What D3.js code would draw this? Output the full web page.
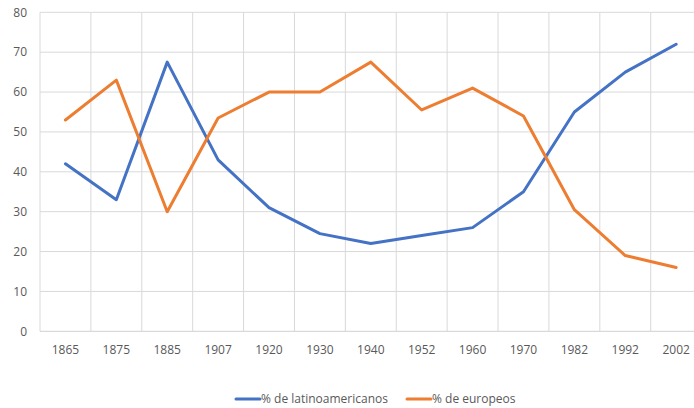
<!DOCTYPE html>
<html><head><meta charset="utf-8">
<script src="https://cdn.jsdelivr.net/npm/d3@7"></script>
<style>body{margin:0;background:#fff;}svg{display:block;font-family:"Open Sans","Noto Sans",sans-serif;}</style>
</head><body>
<svg id="c" width="694" height="408"></svg>
<script>
const categories = ["1865","1875","1885","1907","1920","1930","1940","1952","1960","1970","1982","1992","2002"];
const latinoamericanos = [42,33,67.5,43,31,24.5,22,24,26,35,55,65,72];
const europeos = [53,63,30,53.5,60,60,67.5,55.5,61,54,30.5,19,16];
const yTicks = [0,10,20,30,40,50,60,70,80];
const seriesNames = ["% de latinoamericanos","% de europeos"];
const colors = ["#4472C4","#ED7D31"];

(function(){
const svg = d3.select("#c");
const pL = 40, pR = 701.6, pT = 12.3, pB = 331.3;
const x = d3.scaleBand().domain(categories).range([pL, pR]).padding(0);
const y = d3.scaleLinear().domain([0,80]).range([pB, pT]);

svg.append("g").selectAll("line").data(yTicks.filter(d=>d>0)).join("line")
  .attr("x1", pL).attr("x2", pR)
  .attr("y1", d=>y(d)).attr("y2", d=>y(d))
  .attr("stroke","#d9d9d9").attr("stroke-width",1);
svg.append("g").selectAll("line").data(categories).join("line")
  .attr("x1", d=>x(d)).attr("x2", d=>x(d))
  .attr("y1", pT).attr("y2", pB)
  .attr("stroke","#d9d9d9").attr("stroke-width",1);
svg.append("line").attr("x1",pL).attr("x2",pR).attr("y1",pB).attr("y2",pB)
  .attr("stroke","#d0d0d0").attr("stroke-width",1);

svg.append("g").selectAll("text").data(yTicks).join("text")
  .attr("x", 27).attr("y", d=>y(d)).attr("dy","0.35em")
  .attr("text-anchor","end").attr("font-size",12).attr("fill","#595959")
  .text(d=>d);
svg.append("g").selectAll("text").data(categories).join("text")
  .attr("x", d=>x(d)+x.bandwidth()/2).attr("y", 350).attr("dy","0.35em")
  .attr("text-anchor","middle").attr("font-size",12).attr("fill","#595959")
  .text(d=>d);

const line = d3.line().x((d,i)=>x(categories[i])+x.bandwidth()/2).y(d=>y(d));
[latinoamericanos, europeos].forEach((s,k)=>{
  svg.append("path").attr("d", line(s)).attr("fill","none")
    .attr("stroke", colors[k]).attr("stroke-width",3)
    .attr("stroke-linejoin","round").attr("stroke-linecap","round");
});

const legendX = [236, 407];
seriesNames.forEach((n,k)=>{
  const g = svg.append("g").attr("transform",`translate(${legendX[k]},399)`);
  g.append("line").attr("x1",0).attr("x2",24).attr("y1",0).attr("y2",0)
    .attr("stroke",colors[k]).attr("stroke-width",3).attr("stroke-linecap","round");
  g.append("text").attr("x",25).attr("y",0).attr("dy","0.35em")
    .attr("font-size",12).attr("fill","#595959").text(n);
});
})();
</script>
</body></html>
